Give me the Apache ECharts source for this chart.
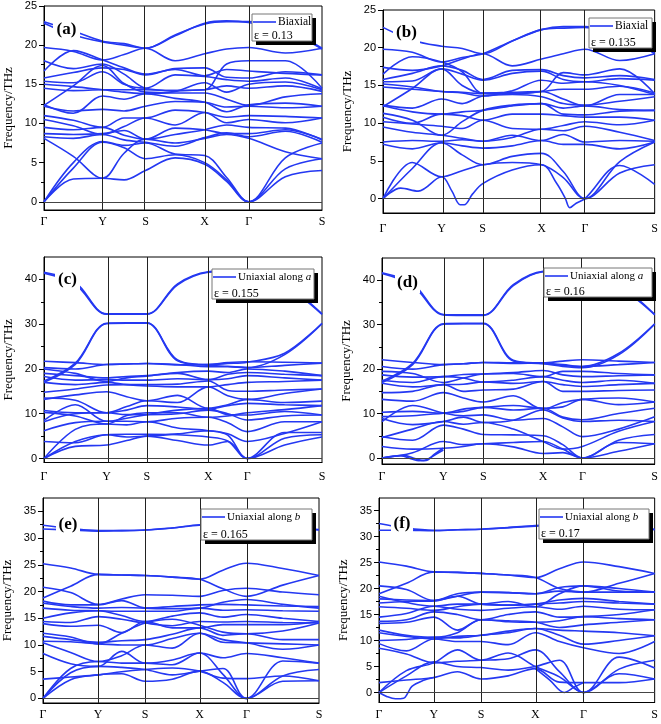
<!DOCTYPE html>
<html><head><meta charset="utf-8">
<script src="https://cdn.jsdelivr.net/npm/echarts@6/dist/echarts.min.js"></script>
<style>html,body{margin:0;padding:0;background:#fff}#c{width:661px;height:724px}</style>
</head><body><div id="c"></div>
<script>
// ---------- data ----------
const kLabels = ['Γ','Y','S','X','Γ','S'];
// path coordinate: 0=Γ,1=Y,2=S,3=X,4=Γ,5=S ; samples at nodes and segment midpoints
const kGrid = [0,0.5,1,1.5,2,2.5,3,3.5,4,4.5,5];

const nodesA = [0,0.211,0.365,0.578,0.736,1];
const nodesB = [0,0.216,0.367,0.584,0.743,1];
const nodesC = [0,0.225,0.370,0.591,0.731,1];
const nodesD = [0,0.225,0.372,0.591,0.735,1];
const nodesE = [0,0.200,0.370,0.567,0.737,1];
const nodesF = [0,0.199,0.370,0.567,0.742,1];

const bandsA = [
[0,2.9,3.0,2.8,4.0,5.6,4.8,2.6,0,3.2,4.0],
[0,4.3,7.6,6.9,5.5,6.0,5.0,2.8,0,4.2,5.5],
[0,5.0,7.7,7.2,7.5,6.1,5.9,3.1,0,5.6,7.5],
[8.1,5.8,3.0,6.2,8.0,7.5,8.1,8.6,8.1,6.4,5.5],
[8.3,8.1,8.6,7.9,7.6,7.1,8.2,8.8,8.3,9.0,7.6],
[8.7,8.6,8.7,9.1,8.0,9.4,9.2,8.7,8.7,9.2,8.0],
[9.5,9.2,9.5,8.5,8.0,8.6,9.2,9.8,9.5,9.4,7.9],
[10.5,9.7,8.6,9.6,10.7,9.8,11.4,10.1,10.5,10.1,10.7],
[11.0,10.4,9.5,10.7,10.7,11.7,11.4,10.8,11.0,10.9,10.7],
[12.2,11.6,11.8,11.6,12.2,12.8,12.7,12.1,12.2,12.0,12.2],
[12.4,11.3,13.5,13.1,13.8,13.2,12.7,11.5,12.4,12.6,12.2],
[12.3,14.8,17.4,15.1,14.0,13.9,13.9,13.1,12.3,13.4,13.8],
[14.5,14.2,14.3,14.3,14.3,14.2,14.3,14.8,14.5,14.8,14.1],
[15.0,14.7,14.3,14.0,13.8,14.1,15.2,14.0,15.0,15.3,14.3],
[15.4,15.2,16.6,15.0,14.5,16.2,16.0,15.6,15.4,15.8,14.4],
[15.8,16.5,17.1,16.9,16.2,17.0,17.1,15.9,15.8,16.6,16.2],
[16.7,19.3,18.1,17.1,16.3,16.9,16.1,16.9,16.7,16.4,16.2],
[18.0,17.0,17.6,16.3,14.5,14.2,14.3,17.6,18.0,18.0,14.5],
[19.7,19.2,18.1,18.8,19.6,18.0,18.9,19.5,19.7,19.0,19.6],
[22.8,21.3,20.4,20.0,19.6,21.2,22.8,23.1,22.9,21.9,19.5],
[23.0,21.8,20.5,20.2,19.6,21.3,22.7,23.0,23.0,22.1,19.6]
];

const bandsB = [
[0,4.8,2.9,3.7,4.5,4.8,4.5,2.8,0,3.4,4.5],
[0,4.0,7.4,5.8,4.5,5.6,6.0,3.6,0,4.9,7.5],
[7.2,6.6,7.4,7.0,6.7,7.0,7.7,7.2,7.2,6.6,7.5],
[7.5,7.7,7.6,7.8,7.6,8.4,7.7,8.5,7.5,7.7,7.6],
[9.5,8.8,8.4,8.0,7.6,8.1,9.2,9.0,9.6,8.8,7.7],
[10.2,9.9,9.6,9.3,10.4,9.3,9.2,9.7,10.2,9.8,10.4],
[10.8,10.0,11.2,11.0,10.4,11.2,11.2,11.0,10.8,10.8,10.4],
[11.3,10.4,8.4,10.2,11.7,12.4,12.6,11.2,11.1,11.6,11.7],
[12.3,11.5,11.2,11.5,11.7,12.3,12.6,12.0,12.3,11.8,11.7],
[12.4,12.0,13.2,12.6,13.6,13.8,13.5,12.6,12.4,12.9,13.5],
[12.2,14.6,17.2,15.0,14.0,14.1,14.2,13.2,12.3,13.8,13.8],
[14.8,14.5,14.2,14.1,13.9,13.9,14.2,14.5,14.5,14.9,14.0],
[15.2,14.8,14.2,14.0,13.6,14.3,15.7,15.3,15.5,15.0,13.8],
[15.5,15.6,17.2,16.5,15.7,16.6,16.9,15.8,15.5,15.9,15.7],
[15.8,16.6,17.6,17.0,15.8,17.0,17.1,16.3,16.0,16.3,15.8],
[16.5,18.8,18.1,16.8,14.0,14.0,14.2,16.7,16.4,17.2,13.9],
[17.4,17.0,17.6,18.5,19.2,17.6,18.5,19.2,19.8,18.3,19.2],
[19.8,19.4,18.1,18.7,19.2,20.9,22.4,22.6,22.7,21.5,19.4],
[22.7,21.0,20.2,19.9,19.2,20.9,22.4,22.8,22.8,21.9,19.2]
];
const dipBK = [0,0.3,0.6,1,1.25,1.45,1.55,1.75,2,2.5,3,3.35,3.55,3.65,3.8,4,4.5,5];
const dipBV = [0,1.4,1.0,2.9,1.0,-0.8,-0.8,0.6,2.0,3.8,4.5,2.0,0.0,-1.2,-0.6,0,4.4,1.9];

const bandsC = [
[0,2.7,3.0,4.0,5.0,4.0,3.0,3.8,0,3.0,4.8],
[0,3.8,5.3,5.4,5.4,5.3,4.8,3.9,0,4.5,5.3],
[0,6.5,7.7,7.5,8.2,6.8,6.2,5.2,0,5.8,5.8],
[3.8,3.5,5.3,4.8,5.0,5.5,6.2,5.5,3.8,5.6,8.2],
[6.2,8.0,8.3,8.3,8.2,9.0,9.2,8.0,6.0,8.2,8.2],
[8.2,10.0,10.2,9.8,9.8,10.0,10.8,10.0,8.6,9.5,9.7],
[8.5,12.0,8.3,9.0,9.8,10.8,11.2,9.8,9.7,10.5,9.7],
[10.3,9.5,7.7,9.6,10.2,10.2,9.2,9.5,10.2,10.9,11.8],
[10.7,10.2,10.2,10.8,11.8,11.5,11.0,11.8,12.3,12.0,11.8],
[13.2,14.2,14.9,13.8,12.9,14.1,11.2,12.0,13.2,12.5,12.8],
[13.5,13.0,10.2,11.6,12.9,12.5,16.0,14.0,13.2,14.5,15.5],
[14.8,15.5,16.4,16.5,16.5,16.6,17.3,15.2,15.0,15.3,15.5],
[17.0,16.5,17.0,16.5,16.2,16.0,16.0,16.5,17.0,17.2,17.5],
[18.3,17.5,17.6,17.5,17.5,17.8,17.6,17.8,18.5,18.0,17.5],
[19.0,18.5,18.0,18.3,18.5,19.0,17.6,18.8,19.2,18.8,18.5],
[20.0,19.0,17.2,18.0,18.4,19.2,19.5,19.2,20.0,19.5,18.5],
[20.3,20.0,21.0,21.1,21.2,21.0,20.5,20.5,20.3,20.8,21.3],
[21.7,21.4,21.0,21.1,21.2,20.9,21.0,21.4,21.6,21.5,21.3],
[17.3,21.3,30.2,30.3,30.3,22.0,21.0,21.2,21.5,23.5,30.2],
[17.0,21.0,30.1,30.2,30.2,21.8,20.8,20.6,20.3,23.2,30.1],
[41.6,39.3,32.3,32.3,32.3,39.0,41.7,41.9,41.8,39.0,32.3],
[41.4,38.9,32.2,32.2,32.2,38.8,41.6,41.8,41.7,38.7,32.2]
];

const bandsD = [
[0,1.2,3.7,3.0,3.2,3.5,3.7,2.0,0,1.5,3.2],
[2.6,2.0,2.2,2.6,3.2,2.5,1.0,1.2,0,3.5,3.2],
[4.8,4.0,7.4,6.5,5.3,5.2,5.0,3.0,0,4.0,5.3],
[4.6,6.5,8.2,7.6,8.0,6.5,3.7,2.0,2.6,6.0,8.2],
[8.2,11.8,10.1,9.5,9.7,8.5,8.9,7.0,4.8,6.5,9.3],
[8.9,7.5,8.2,9.2,8.0,8.5,10.8,9.0,8.2,8.5,8.2],
[9.3,9.5,10.1,10.5,11.4,10.8,11.2,9.2,8.6,10.0,11.2],
[10.3,10.5,10.1,11.0,11.4,11.8,11.2,11.5,13.2,12.0,12.6],
[13.2,12.8,14.7,13.5,12.6,14.0,11.0,12.5,13.2,13.5,12.6],
[14.7,15.0,16.5,15.0,15.3,15.5,17.2,15.0,15.0,15.2,15.3],
[16.8,16.0,16.5,16.6,17.1,16.8,17.2,16.5,16.1,16.5,16.8],
[17.5,17.0,18.3,18.0,17.1,17.5,18.3,17.5,17.0,17.5,16.8],
[18.7,18.2,18.3,18.8,18.9,19.2,19.7,18.7,18.3,18.5,18.7],
[19.5,19.0,17.0,18.0,18.9,19.0,18.3,19.5,19.5,19.0,18.7],
[20.6,20.0,21.0,21.2,21.5,21.3,21.4,20.8,20.6,21.0,21.5],
[22.1,21.5,21.0,21.2,21.5,21.4,21.4,21.8,22.1,21.8,21.5],
[17.3,21.3,30.2,30.3,30.3,22.0,21.3,21.0,20.6,23.5,30.2],
[17.0,21.0,30.1,30.2,30.2,21.8,21.2,20.6,20.3,23.2,30.1],
[41.7,39.2,32.3,32.2,32.2,39.0,42.0,42.1,41.9,39.0,32.3],
[41.5,38.8,32.2,32.1,32.1,38.8,41.9,42.0,41.8,38.7,32.2]
];
const dipD1K = [0,0.3,0.5,0.6,0.7,0.78,0.9,1];
const dipD1V = [0,0.5,-0.3,-0.6,-0.5,0.0,1.0,1.8];
const dipD2K = [0,0.35,0.55,0.68,0.75,0.85,1];
const dipD2V = [0,0.6,-0.2,-0.6,-0.4,0.8,2.2];

const bandsE = [
[0,3.5,4.4,4.6,3.2,3.6,5.1,3.0,0,3.2,3.3],
[0,4.8,6.0,5.8,5.4,4.4,5.1,5.6,0,4.2,5.4],
[0,5.6,6.9,6.6,6.6,6.3,8.5,4.5,0,7.0,6.6],
[3.6,4.0,4.4,5.0,5.4,5.7,5.1,3.8,3.7,4.2,3.3],
[8.4,6.5,6.0,8.8,6.6,7.2,8.5,7.6,8.4,7.6,6.6],
[10.4,8.6,6.9,8.0,10.0,9.4,12.2,11.0,10.4,9.2,10.0],
[10.7,10.6,10.2,10.0,10.0,11.2,12.2,10.5,10.4,10.2,10.0],
[11.6,11.0,10.5,10.8,11.0,12.0,13.2,11.8,12.1,11.0,11.0],
[12.2,11.5,10.2,12.2,14.1,14.8,13.7,12.4,12.1,12.6,14.1],
[14.0,13.5,13.7,12.3,14.4,13.2,13.2,13.8,13.8,13.8,14.4],
[14.4,14.2,15.3,14.8,14.1,13.6,14.4,14.3,14.4,14.2,14.1],
[15.0,16.0,16.4,15.5,14.4,15.4,16.0,15.2,15.7,15.0,14.4],
[16.9,16.5,16.4,16.3,16.3,16.3,16.9,16.5,16.6,16.4,16.3],
[17.8,17.2,16.9,17.0,16.9,17.2,17.5,17.6,17.5,17.3,17.2],
[18.2,17.5,17.5,18.3,16.9,16.8,16.9,18.0,18.5,17.6,16.9],
[18.8,21.0,23.2,23.1,23.0,22.7,22.3,20.5,19.1,21.2,23.0],
[20.8,19.8,17.6,18.6,19.4,19.3,19.1,20.2,20.6,19.9,19.4],
[25.2,24.4,23.2,23.1,23.0,22.7,22.3,24.0,25.3,24.3,23.0],
[32.4,31.8,31.4,31.4,31.5,31.9,32.5,32.6,32.5,32.0,31.6],
[31.7,31.5,31.3,31.4,31.5,31.9,32.4,32.5,32.4,31.9,31.5]
];

const bandsF = [
[1.9,2.4,2.9,4.0,2.6,3.2,4.6,2.0,1.9,1.9,2.6],
[0,3.2,5.9,5.0,4.8,4.3,5.0,6.2,0,3.6,2.6],
[0,4.2,5.7,8.2,6.2,7.6,5.0,3.0,0,6.8,4.7],
[8.5,7.4,5.7,6.0,6.2,6.5,8.2,4.0,0,4.5,6.2],
[9.4,8.0,10.3,9.8,9.8,9.2,11.5,9.8,8.6,7.5,9.8],
[10.0,10.2,10.6,10.5,11.0,11.5,12.3,11.0,9.3,10.0,10.9],
[11.5,10.8,10.3,10.8,11.0,11.8,12.3,12.0,11.8,11.5,10.9],
[12.0,11.0,10.6,11.5,14.0,13.8,13.5,12.5,13.0,13.5,14.0],
[13.3,13.5,14.5,12.0,14.0,13.6,13.5,13.8,14.6,14.2,14.0],
[13.7,14.0,15.5,15.0,14.0,15.0,15.5,14.5,14.6,15.0,15.9],
[14.5,15.2,16.6,16.0,15.8,16.2,16.5,16.0,16.6,16.0,15.9],
[16.5,16.2,15.8,16.5,17.0,16.8,17.0,17.2,17.5,17.2,17.0],
[17.2,17.5,17.6,18.5,17.0,16.8,17.0,17.8,18.1,17.5,17.0],
[18.0,17.8,17.7,19.0,19.3,19.2,19.0,19.5,19.3,19.3,19.3],
[18.5,17.3,16.6,17.0,17.0,17.5,16.5,19.0,20.5,19.5,19.3],
[19.0,21.0,23.2,23.1,22.9,22.6,22.1,20.0,19.3,21.0,22.9],
[20.5,19.8,17.7,18.5,19.3,19.2,19.0,20.2,20.5,20.0,19.3],
[25.1,24.3,23.2,23.1,22.9,22.6,22.1,23.8,25.1,24.2,22.9],
[32.5,31.6,31.2,31.3,31.4,31.7,32.1,32.3,32.4,32.0,31.4],
[31.2,31.2,31.1,31.3,31.4,31.7,32.0,32.2,32.3,31.9,31.3]
];
const dipFK = [0,0.15,0.3,0.45,0.52,0.6,0.8,1.0];
const dipFV = [0,-0.8,-1.2,-1.1,-0.2,1.2,2.3,2.9];
const vFK = [3,3.3,3.6,3.8,4];
const vFV = [4.6,2.4,0,1.0,1.9];

const major25 = [0,5,10,15,20,25];
const minor25 = [2.5,7.5,12.5,17.5,22.5];
const major45 = [0,10,20,30,40];
const minor45 = [5,15,25,35];
const major35 = [0,5,10,15,20,25,30,35];
const minor35 = [2.5,7.5,12.5,17.5,22.5,27.5,32.5];

// ---------- layout ----------
const panels = [
 {tag:'(a)', g:[44,6,278,204], y:[-1.05,25], maj:major25, min:minor25, nodes:nodesA, bands:bandsA,
  extras:[], lab:[53,20,27,20], leg:[252,14,60,27], legTxt:'{n|Biaxial}', eps:'ε = 0.13', xlm:6, fs:11.5},
 {tag:'(b)', g:[383,10,275,203], y:[-1.9,25], maj:major25, min:minor25, nodes:nodesB, bands:bandsB,
  extras:[[dipBK,dipBV]], lab:[393,23,27,20], leg:[589,18,63,30], legTxt:'{n|Biaxial}', eps:'ε = 0.135', xlm:10, fs:11.5},
 {tag:'(c)', g:[44,257,278,205.5], y:[-0.9,45], maj:major45, min:minor45, nodes:nodesC, bands:bandsC,
  extras:[], lab:[55,269,25,21], leg:[212,269,102,30], legTxt:'{n|Uniaxial along }{i|a}', eps:'ε = 0.155', xlm:8, fs:11},
 {tag:'(d)', g:[382,258,275,206], y:[-1.35,45], maj:major45, min:minor45, nodes:nodesD, bands:bandsD,
  extras:[[dipD1K,dipD1V],[dipD2K,dipD2V]], lab:[395,272,25,21], leg:[544,268,108,29], legTxt:'{n|Uniaxial along }{i|a}', eps:'ε = 0.16', xlm:7, fs:11},
 {tag:'(e)', g:[42,498,277,205], y:[-0.86,37.5], maj:major35, min:minor35, nodes:nodesE, bands:bandsE,
  extras:[], lab:[56,514,24,22], leg:[201,509,111,31], legTxt:'{n|Uniaxial along }{i|b}', eps:'ε = 0.165', xlm:6, fs:11},
 {tag:'(f)', g:[379,498,276.5,204.5], y:[-1.92,37.4], maj:major35, min:minor35, nodes:nodesF, bands:bandsF,
  extras:[[dipFK,dipFV],[vFK,vFV]], lab:[391,513,22,21], leg:[539,509,110,30], legTxt:'{n|Uniaxial along }{i|b}', eps:'ε = 0.17', xlm:6, fs:11}
];

const BLUE = '#2438f2';
const SERIF = '"Liberation Serif","Times New Roman",serif';
const SANS = '"Liberation Sans",Arial,sans-serif';

function kToX(nodes,u){
  const s = Math.min(Math.floor(u),4), f = u - s;
  return nodes[s] + f*(nodes[s+1]-nodes[s]);
}

const grid=[], xAxis=[], yAxis=[], series=[], graphic=[];
panels.forEach((p,i)=>{
  grid.push({left:p.g[0], top:p.g[1], width:p.g[2], height:p.g[3], show:true, borderColor:'#000', borderWidth:1, containLabel:false});
  xAxis.push({type:'value', gridIndex:i, min:0, max:1,
    axisLine:{show:true, onZero:false, lineStyle:{color:'#000', width:1}},
    axisTick:{show:false}, splitLine:{show:false},
    axisLabel:{customValues:p.nodes, margin:p.xlm, color:'#000', fontFamily:SERIF, fontSize:12,
      formatter:(v)=>{let bi=0,bd=9;p.nodes.forEach((n,j)=>{if(Math.abs(n-v)<bd){bd=Math.abs(n-v);bi=j;}});return kLabels[bi];}}
  });
  yAxis.push({type:'value', gridIndex:i, min:p.y[0], max:p.y[1], position:'left',
    name:'Frequency/THz', nameLocation:'middle', nameGap:29,
    nameTextStyle:{fontFamily:SERIF, fontSize:13, color:'#000'},
    axisLine:{show:true, onZero:false, lineStyle:{color:'#000', width:1}},
    axisTick:{show:true, customValues:p.maj, length:5, lineStyle:{color:'#000'}},
    axisLabel:{customValues:p.maj, margin:7, color:'#000', fontFamily:SANS, fontSize:11},
    splitLine:{show:false}});
  yAxis.push({type:'value', gridIndex:i, min:p.y[0], max:p.y[1], position:'left', offset:0,
    axisLine:{show:false}, axisLabel:{show:false}, splitLine:{show:false},
    axisTick:{show:true, customValues:p.min, length:3, lineStyle:{color:'#000'}}});
  const yi = 2*i;
  const lineSeries = (pts)=>({type:'line', xAxisIndex:i, yAxisIndex:yi, data:pts, showSymbol:false,
    smooth:0.35, silent:true, animation:false, z:3,
    lineStyle:{color:BLUE, width:1.6}});
  p.bands.forEach(b=>{
    series.push(lineSeries(kGrid.map((u,j)=>[kToX(p.nodes,u), b[j]])));
  });
  p.extras.forEach(([K,V])=>{
    series.push(lineSeries(K.map((u,j)=>[kToX(p.nodes,u), V[j]])));
  });
  // high-symmetry verticals and zero line
  series.push({type:'line', xAxisIndex:i, yAxisIndex:yi, data:[], silent:true, animation:false,
    markLine:{symbol:'none', silent:true, animation:false, label:{show:false},
      lineStyle:{color:'#222', width:1, type:'solid'},
      data:[...p.nodes.slice(1,5).map(v=>({xAxis:v})), {yAxis:0, lineStyle:{color:'#444', width:1, type:'solid'}}]}});
  // panel tag with white background
  graphic.push({type:'rect', z:100, shape:{x:p.lab[0], y:p.lab[1], width:p.lab[2], height:p.lab[3]}, style:{fill:'#fff'}});
  graphic.push({type:'text', z:101, x:p.lab[0]+p.lab[2]/2, y:p.lab[1]+p.lab[3]/2,
    style:{text:p.tag, fill:'#000', font:'bold 17px '+SERIF, align:'center', verticalAlign:'middle'}});
  // legend box with shadow
  const [lx,ly,lw,lh] = p.leg;
  graphic.push({type:'rect', z:100, shape:{x:lx+4, y:ly+4, width:lw, height:lh}, style:{fill:'#000'}});
  graphic.push({type:'rect', z:101, shape:{x:lx, y:ly, width:lw, height:lh}, style:{fill:'#fff', stroke:'#777', lineWidth:1}});
  graphic.push({type:'line', z:102, shape:{x1:lx+1, y1:ly+8, x2:lx+24, y2:ly+8}, style:{stroke:BLUE, lineWidth:1.6}});
  graphic.push({type:'text', z:102, x:lx+26, y:ly+8,
    style:{text:p.legTxt, verticalAlign:'middle', rich:{n:{fontFamily:SERIF, fontSize:p.fs, fill:'#000'}, i:{fontFamily:SERIF, fontSize:p.fs, fontStyle:'italic', fill:'#000'}}}});
  graphic.push({type:'text', z:102, x:lx+2, y:ly+lh-5,
    style:{text:p.eps, verticalAlign:'middle', fill:'#000', font:'12px '+SERIF}});
});

const chart = echarts.init(document.getElementById('c'), null, {renderer:'canvas'});
chart.setOption({animation:false, backgroundColor:'#fff', grid, xAxis, yAxis, series, graphic});
</script>
</body></html>
